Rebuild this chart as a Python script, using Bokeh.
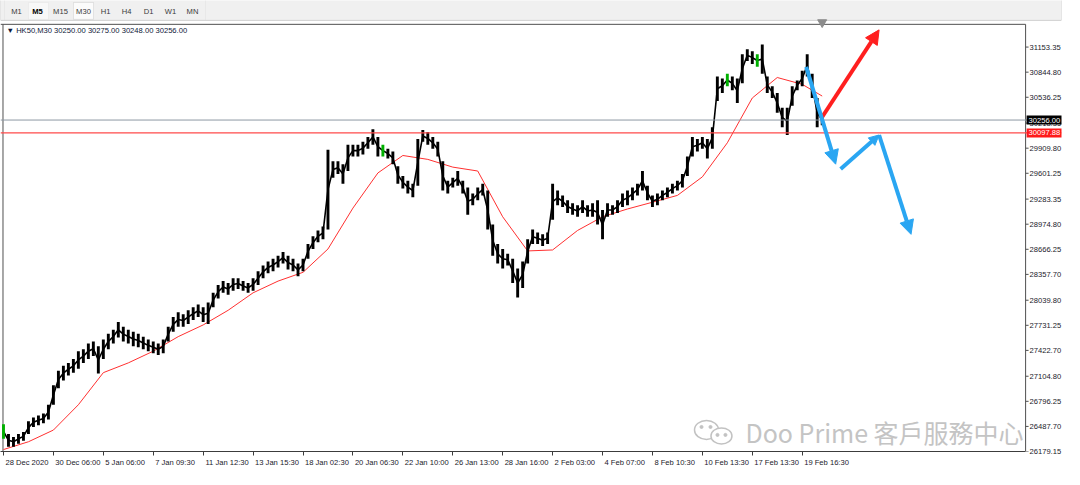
from bokeh.plotting import figure
from bokeh.models import (Range1d, FixedTicker, NumeralTickFormatter, Span, Label, LinearAxis,
                          Arrow, NormalHead, BoxAnnotation, ColumnDataSource)
from bokeh.embed import file_html
from bokeh.resources import INLINE

# ---------------- data ----------------
symbol_header = "\u25BC HK50,M30  30250.00 30275.00 30248.00 30256.00"
timeframes = ["M1", "M5", "M15", "M30", "H1", "H4", "D1", "W1", "MN"]
x_tick_labels = ["28 Dec 2020", "30 Dec 06:00", "5 Jan 06:00", "7 Jan 09:30", "11 Jan 12:30",
                 "13 Jan 15:30", "18 Jan 02:30", "20 Jan 06:30", "22 Jan 10:00", "26 Jan 13:00",
                 "28 Jan 16:00", "2 Feb 03:00", "4 Feb 07:00", "8 Feb 10:30", "10 Feb 13:30",
                 "17 Feb 13:30", "19 Feb 16:30"]
bars_per_label = 10
y_ticks = [26179.15, 26487.70, 26796.25, 27104.80, 27422.70, 27731.25, 28039.80, 28357.70,
           28666.25, 28974.80, 29283.35, 29601.25, 29909.80, 30218.35, 30536.25, 30844.80,
           31153.35]

high = [26515, 26395, 26359, 26395, 26419, 26550, 26598, 26622, 26646, 26754,
        26994, 27173, 27233, 27269, 27317, 27413, 27437, 27509, 27533, 27473,
        27556, 27628, 27676, 27772, 27712, 27676, 27652, 27628, 27592, 27556,
        27533, 27509, 27556, 27712, 27832, 27892, 27868, 27916, 27952, 27988,
        27952, 28012, 28131, 28227, 28275, 28251, 28311, 28311, 28275, 28251,
        28311, 28395, 28467, 28515, 28551, 28587, 28634, 28587, 28551, 28491,
        28551, 28730, 28826, 28898, 28946, 29892, 29748, 29748, 29713, 29952,
        29952, 29952, 29988, 30048, 30144, 30048, 29952, 29904, 29868, 29689,
        29569, 29509, 29473, 30024, 30132, 30108, 30048, 29988, 29748, 29509,
        29545, 29629, 29509, 29425, 29353, 29425, 29473, 29389, 28970, 28730,
        28670, 28610, 28551, 28431, 28515, 28790, 28910, 28874, 28850, 28874,
        29473, 29389, 29329, 29269, 29233, 29209, 29269, 29209, 29233, 29269,
        29149, 29233, 29209, 29269, 29353, 29389, 29425, 29473, 29629, 29449,
        29329, 29353, 29389, 29425, 29473, 29509, 29593, 29808, 30048, 30024,
        30048, 30024, 30168, 30790, 30767, 30826, 30790, 30767, 31066, 31126,
        31102, 31066, 31186, 30790, 30671, 30587, 30407, 30407, 30671, 30743,
        30862, 31066, 30826, 30527, 30311]
low = [26335, 26239, 26239, 26275, 26311, 26395, 26479, 26503, 26527, 26574,
       26754, 26958, 27053, 27113, 27149, 27197, 27269, 27317, 27353, 27137,
       27317, 27437, 27509, 27580, 27533, 27509, 27473, 27461, 27437, 27413,
       27389, 27365, 27389, 27533, 27652, 27712, 27712, 27748, 27796, 27832,
       27772, 27748, 27952, 28060, 28131, 28107, 28155, 28179, 28155, 28131,
       28155, 28227, 28311, 28371, 28395, 28443, 28491, 28419, 28395, 28335,
       28395, 28551, 28670, 28754, 28790, 28910, 29545, 29593, 29473, 29629,
       29808, 29808, 29832, 29904, 29952, 29808, 29808, 29784, 29713, 29473,
       29413, 29353, 29305, 29449, 29988, 29952, 29904, 29808, 29389, 29353,
       29425, 29449, 29353, 29090, 29209, 29269, 29329, 28910, 28587, 28491,
       28431, 28467, 28251, 28072, 28191, 28491, 28730, 28730, 28706, 28730,
       29030, 29209, 29185, 29114, 29090, 29066, 29114, 29066, 29066, 28970,
       28790, 29066, 29090, 29114, 29185, 29209, 29269, 29329, 29389, 29269,
       29185, 29209, 29269, 29305, 29353, 29389, 29425, 29569, 29808, 29868,
       29904, 29784, 29904, 30491, 30587, 30671, 30623, 30467, 30707, 30982,
       30946, 30910, 30826, 30587, 30527, 30347, 30168, 30072, 30431, 30623,
       30671, 30790, 30527, 30168, 30192]
up_bars = [0, 76, 145, 151]

ma_step = 5
ma_values = [26203, 26299, 26443, 26754, 27149, 27269, 27413, 27592, 27736, 27916,
             28131, 28275, 28383, 28670, 29173, 29605, 29820, 29772, 29677, 29629,
             29066, 28646, 28658, 28898, 29066, 29162, 29245, 29329, 29557, 29976,
             30527, 30779, 30695]
ma_last = (164, 30551)

bid_price = 30256.00
level_price = 30097.88

# hand-drawn arrows: (bar index, price)
arrow_red = [(163.8, 30275), (175.4, 31365)]
arrow_blue_1 = [(160.8, 30910), (166.7, 29713)]
arrow_blue_2 = [(167.7, 29653), (175.4, 30072), (181.8, 28850)]

watermark = "Doo Prime 客戶服務中心"

# ---------------- geometry / style ----------------
FONT = "Liberation Sans"
FS_PX = 7.6
FS = "%gpx" % FS_PX
FIG_W, FIG_H = 1064, 469
BOTTOM_PANEL = 15          # tick row + label row of the time axis
TOOLBAR_PX = 24            # tab strip above the chart area
AXIS_GAP_PX = 36           # space kept for the price scale at the right
VISIBLE_BARS = 204.75      # bars that fit between left edge and price-scale line
PPB = (FIG_W - AXIS_GAP_PX - 3) / VISIBLE_BARS   # pixels per bar

y_lo = 26179.15
chart_top = 31433.0
frame_h = FIG_H - BOTTOM_PANEL
ppu = (chart_top - y_lo) / (frame_h - TOOLBAR_PX)      # price per pixel
y_top = chart_top + TOOLBAR_PX * ppu
x_lo = -3.0 / PPB
x_hi = x_lo + FIG_W / PPB
axis_x = x_hi - AXIS_GAP_PX / PPB                     # position of the price-scale line

p = figure(width=FIG_W, height=FIG_H, output_backend="svg", toolbar_location=None,
           x_range=Range1d(x_lo, x_hi), y_range=Range1d(y_lo, y_top),
           y_axis_location="right",
           min_border_left=0, min_border_right=0, min_border_top=0, min_border_bottom=0,
           background_fill_color="white", border_fill_color="white")
p.title.visible = False
p.grid.visible = False
p.outline_line_color = None

# ---- time axis: tick row ----
xa = p.xaxis[0]
tick_pos = [i * bars_per_label for i in range(len(x_tick_labels))]
xa.ticker = FixedTicker(ticks=tick_pos)
xa.major_label_overrides = {t: "" for t in tick_pos}
xa.major_label_text_font_size = "0px"
xa.major_label_standoff = 0
xa.major_tick_out = 4
xa.major_tick_in = 0
xa.minor_tick_out = 0
xa.minor_tick_in = 0
xa.axis_line_color = "#3c3c3c"
xa.major_tick_line_color = "#3c3c3c"
xa.bounds = (x_lo, axis_x)

# ---- time axis: label row (labels start at their tick, MT4 style) ----
_cw = {" ": 278, ":": 278, "D": 722, "e": 556, "c": 500, "J": 500, "a": 556, "n": 556,
       "F": 611, "b": 556}
def text_px(s):
    return sum(_cw.get(ch, 556) for ch in s) * FS_PX / 1000.0
label_pos = [t + (text_px(s) / 2 + 2) / PPB for t, s in zip(tick_pos, x_tick_labels)]
xl = LinearAxis(ticker=FixedTicker(ticks=label_pos),
                major_label_overrides={lp: s for lp, s in zip(label_pos, x_tick_labels)},
                major_label_text_font=FONT, major_label_text_font_size=FS,
                major_label_text_color="#1a1a2a", major_label_standoff=2,
                major_tick_out=0, major_tick_in=0, minor_tick_out=0, minor_tick_in=0,
                axis_line_color=None, major_tick_line_color=None, minor_tick_line_color=None)
p.add_layout(xl, "below")

# ---- price scale (labels drawn just right of the price-scale line) ----
ya = p.yaxis[0]
ya.ticker = FixedTicker(ticks=y_ticks)
ya.formatter = NumeralTickFormatter(format="0.00")
ya.major_label_text_font = FONT
ya.major_label_text_font_size = FS
ya.major_label_text_color = "#1a1a2a"
ya.major_label_standoff = -(AXIS_GAP_PX - 4)
ya.major_tick_out = 0
ya.major_tick_in = 0
ya.minor_tick_out = 0
ya.minor_tick_in = 0
ya.axis_line_color = None
ya.major_tick_line_color = None

# frame lines of the chart area
frame_col = "#505050"
p.segment(x0=[x_lo, axis_x], y0=[chart_top, y_lo], x1=[axis_x, axis_x], y1=[chart_top, chart_top],
          line_color=frame_col, line_width=1)
p.segment(x0=[x_lo + 2.5 / PPB], y0=[y_lo], x1=[x_lo + 2.5 / PPB], y1=[chart_top],
          line_color=frame_col, line_width=1)
p.segment(x0=[axis_x] * len(y_ticks), y0=y_ticks, x1=[axis_x + 3 / PPB] * len(y_ticks), y1=y_ticks,
          line_color=frame_col, line_width=1)

# level lines
p.add_layout(Span(location=bid_price, dimension="width", line_color="#8e98a3", line_width=1))
p.add_layout(Span(location=level_price, dimension="width", line_color="#ff4a4a", line_width=1.3))

# moving average
ma_x = [i * ma_step for i in range(len(ma_values))] + [ma_last[0]]
ma_y = ma_values + [ma_last[1]]
p.line(ma_x, ma_y, line_color="#ff3030", line_width=1)

# price bars
xs = list(range(len(high)))
mid = [(h + l) / 2 for h, l in zip(high, low)]
colors = ["#00b000" if i in up_bars else "black" for i in xs]
src = ColumnDataSource(dict(x=xs, high=high, low=low, mid=mid, color=colors))
p.line("x", "mid", source=src, line_color="black", line_width=1.6)
p.segment(x0="x", y0="low", x1="x", y1="high", source=src, line_color="color", line_width=2.9)

# arrows
def add_arrow(a, b, color, head_size, width):
    p.add_layout(Arrow(end=NormalHead(size=head_size, fill_color=color, line_color=color),
                       x_start=a[0], y_start=a[1], x_end=b[0], y_end=b[1],
                       line_color=color, line_width=width))

add_arrow(arrow_red[0], arrow_red[1], "#ff1f1f", 14, 4)
add_arrow(arrow_blue_1[0], arrow_blue_1[1], "#2aa6f2", 14, 4)
add_arrow(arrow_blue_2[0], arrow_blue_2[1], "#2aa6f2", 10, 4)
add_arrow(arrow_blue_2[1], arrow_blue_2[2], "#2aa6f2", 14, 4)

# price boxes on the price scale
for price, bg in [(bid_price, "black"), (level_price, "#ff1a1a")]:
    p.add_layout(Label(x=axis_x, y=price, text="%.2f" % price, text_align="left",
                       text_baseline="middle", x_offset=1, text_color="white",
                       background_fill_color=bg, text_font=FONT, text_font_size=FS,
                       padding=2))

# header
p.add_layout(Label(x=6, x_units="screen", y=chart_top - 2 * ppu, text=symbol_header,
                   text_align="left", text_baseline="top", text_color="#0c1838",
                   text_font=FONT, text_font_size=FS))

# timeframe tab strip
p.add_layout(BoxAnnotation(bottom=chart_top + 4 * ppu, top=y_top + 5 * ppu,
                           fill_color="#f0f0f0", fill_alpha=1, line_color="#cfcfcf",
                           line_alpha=1, line_width=1, level="underlay"))
p.add_layout(BoxAnnotation(left=4, right=205, left_units="screen", right_units="screen",
                           bottom=chart_top + 4 * ppu, top=y_top + 5 * ppu,
                           fill_alpha=0, line_color="#d6d6d6", line_width=1, level="underlay"))
p.add_layout(BoxAnnotation(left=73, right=93, left_units="screen", right_units="screen",
                           bottom=chart_top + 5 * ppu, top=chart_top + 22 * ppu,
                           fill_color="#fbfbfb", fill_alpha=1, line_color="#b4b4b4",
                           line_width=1, level="underlay"))
p.add_layout(BoxAnnotation(left=28, right=48, left_units="screen", right_units="screen",
                           bottom=chart_top + 5 * ppu, top=chart_top + 22 * ppu,
                           fill_color="#f8f8f8", fill_alpha=1, line_color="#dcdcdc",
                           line_width=1, level="underlay"))
tab_centers = [16, 37, 60, 83, 105, 126, 148, 170, 192]
for t, cx in zip(timeframes, tab_centers):
    p.add_layout(Label(x=cx, x_units="screen", y=chart_top + 13 * ppu, text=t,
                       text_align="center", text_baseline="middle",
                       text_color="#000000" if t == "M5" else "#3a3a3a",
                       text_font_style="bold" if t == "M5" else "normal",
                       text_font=FONT, text_font_size=FS))
p.scatter([ma_last[0]], [chart_top + 2 * ppu], marker="inverted_triangle", size=9,
          fill_color="#8c8c8c", line_color="#8c8c8c")

# watermark (WeChat-style icon + text)
wm_x_px, wm_y = 745, 26420
def px_to_x(px):
    return x_lo + px / PPB
icon_col = "#c2c2c2"
p.ellipse(x=[px_to_x(wm_x_px - 37)], y=[wm_y + 2 * ppu], width=24, height=19,
          width_units="screen", height_units="screen", fill_color="white",
          line_color=icon_col, line_width=1.5)
p.ellipse(x=[px_to_x(wm_x_px - 22)], y=[wm_y - 4 * ppu], width=21, height=16,
          width_units="screen", height_units="screen", fill_color="white",
          line_color=icon_col, line_width=1.5)
p.scatter(x=[px_to_x(wm_x_px - 42), px_to_x(wm_x_px - 33), px_to_x(wm_x_px - 26),
             px_to_x(wm_x_px - 18)],
          y=[wm_y + 5 * ppu, wm_y + 5 * ppu, wm_y - 3 * ppu, wm_y - 3 * ppu],
          size=3, fill_color=icon_col, line_color=icon_col)
p.add_layout(Label(x=wm_x_px, x_units="screen", y=wm_y, text=watermark, text_align="left",
                   text_baseline="middle", text_color="#c4c4c4", text_font="Noto Sans CJK TC",
                   text_font_size="25px"))

open("out.html", "w").write(file_html(p, INLINE))
